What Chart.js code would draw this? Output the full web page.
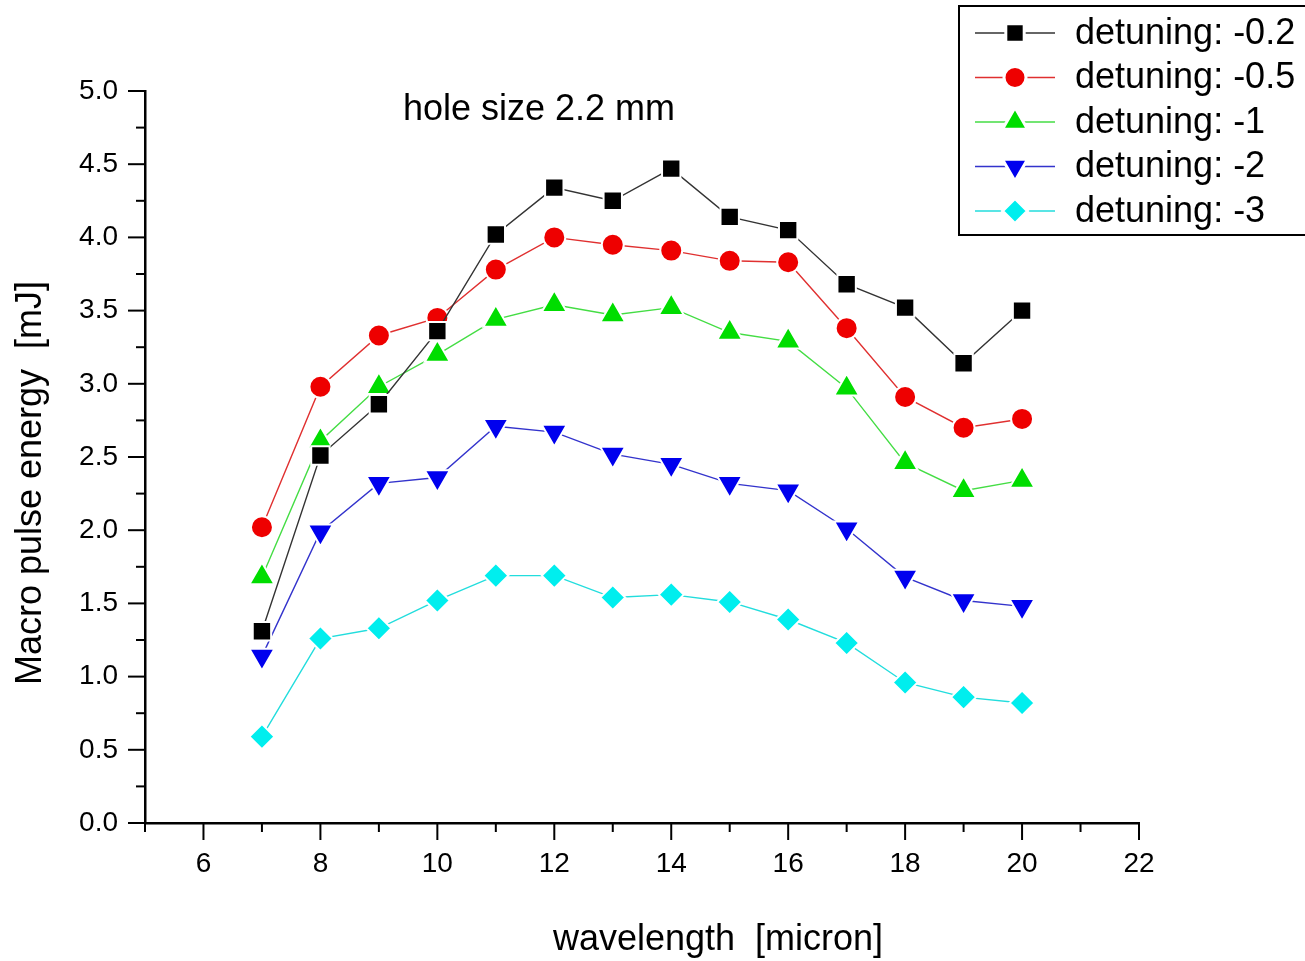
<!DOCTYPE html>
<html lang="en">
<head>
    <meta charset="UTF-8">
    <title>Macro pulse energy</title>
    <script src="https://cdn.jsdelivr.net/npm/chart.js@4/dist/chart.umd.min.js"></script>
    <style>
        html, body { margin: 0; padding: 0; background: #fff; }
        #box { width: 1305px; height: 961px; }
    </style>
</head>
<body>
    <div id="box"><canvas id="canvas" width="1305" height="961"></canvas></div>
    <script>
        // wavelength in micron
        var wavelength = [7, 8, 9, 10, 11, 12, 13, 14, 15, 16, 17, 18, 19, 20];

        // macro pulse energy [mJ] for each detuning
        var det02 = [1.31, 2.51, 2.86, 3.36, 4.02, 4.34, 4.25, 4.47, 4.14, 4.05, 3.68, 3.52, 3.14, 3.50];
        var det05 = [2.02, 2.98, 3.33, 3.45, 3.78, 4.00, 3.95, 3.91, 3.84, 3.83, 3.38, 2.91, 2.70, 2.76];
        var det1 = [1.68, 2.61, 2.98, 3.20, 3.44, 3.54, 3.47, 3.52, 3.35, 3.29, 2.97, 2.46, 2.27, 2.34];
        var det2 = [1.14, 1.99, 2.32, 2.36, 2.71, 2.67, 2.52, 2.45, 2.32, 2.27, 2.01, 1.68, 1.52, 1.48];
        var det3 = [0.59, 1.26, 1.33, 1.52, 1.69, 1.69, 1.54, 1.56, 1.51, 1.39, 1.23, 0.96, 0.86, 0.82];

        var seriesNames = ['detuning: -0.2', 'detuning: -0.5', 'detuning: -1', 'detuning: -2', 'detuning: -3'];

        var font = 'Liberation Sans, Arial, sans-serif';

        function pts(arr) {
            return arr.map(function (v, i) { return { x: wavelength[i], y: v }; });
        }

        function ds(label, values, color, lineColor, style, radius, rotation) {
            return {
                label: label,
                data: pts(values),
                borderColor: lineColor,
                borderWidth: 1.4,
                backgroundColor: color,
                pointBackgroundColor: color,
                pointBorderColor: '#ffffff',
                pointBorderWidth: 2,
                pointStyle: style,
                pointRadius: radius,
                pointRotation: rotation || 0,
                pointHoverRadius: radius,
                tension: 0
            };
        }

        var datasets = [
            ds(seriesNames[0], det02, '#000000', '#333333', 'rect', 13),
            ds(seriesNames[1], det05, '#ee0000', '#e03030', 'circle', 11),
            ds(seriesNames[2], det1, '#00dd00', '#44dd44', 'triangle', 14.5),
            ds(seriesNames[3], det2, '#0000ee', '#3333cc', 'triangle', 14.5, 180),
            ds(seriesNames[4], det3, '#00eeee', '#22dddd', 'rectRot', 12.5)
        ];

        // axis tick marks (major / minor), axis titles, inner title, legend box
        var decor = {
            id: 'decor',
            afterDraw: function (chart) {
                var ctx = chart.ctx;
                var xs = chart.scales.x, ys = chart.scales.y;
                var area = chart.chartArea;
                ctx.save();
                ctx.strokeStyle = '#000';
                ctx.lineWidth = 2;
                for (var v = 5; v <= 22; v++) {
                    var px = xs.getPixelForValue(v);
                    var len = (v % 2 === 0) ? 17 : 9;
                    ctx.beginPath();
                    ctx.moveTo(px, area.bottom);
                    ctx.lineTo(px, area.bottom + len);
                    ctx.stroke();
                }
                for (var k = 0; k <= 20; k++) {
                    var yv = k * 0.25;
                    var py = ys.getPixelForValue(yv);
                    var l2 = (k % 2 === 0) ? 17 : 9;
                    ctx.beginPath();
                    ctx.moveTo(area.left, py);
                    ctx.lineTo(area.left - l2, py);
                    ctx.stroke();
                }

                ctx.fillStyle = '#000';
                ctx.textAlign = 'center';
                ctx.textBaseline = 'middle';

                // axis titles
                ctx.font = '36px ' + font;
                ctx.fillText('wavelength  [micron]', 718, 940);
                ctx.save();
                ctx.translate(31, 483);
                ctx.rotate(-Math.PI / 2);
                ctx.fillText('Macro pulse energy  [mJ]', 0, 0);
                ctx.restore();

                // inner title
                ctx.font = '36px ' + font;
                ctx.fillText('hole size 2.2 mm', 539, 110);

                // legend
                ctx.lineWidth = 2;
                ctx.strokeStyle = '#000';
                ctx.fillStyle = '#fff';
                ctx.fillRect(959, 6, 360, 229);
                ctx.strokeRect(959, 6, 360, 229);
                ctx.font = '36px ' + font;
                ctx.textAlign = 'left';
                chart.data.datasets.forEach(function (d, i) {
                    var y = 33 + i * 44.5;
                    ctx.strokeStyle = d.borderColor;
                    ctx.lineWidth = 1.4;
                    ctx.beginPath();
                    ctx.moveTo(975, y);
                    ctx.lineTo(1055, y);
                    ctx.stroke();
                    ctx.fillStyle = d.pointBackgroundColor;
                    ctx.strokeStyle = '#fff';
                    ctx.lineWidth = 3;
                    Chart.helpers.drawPoint(ctx, {
                        pointStyle: d.pointStyle,
                        radius: d.pointRadius,
                        rotation: d.pointRotation,
                        borderWidth: 3
                    }, 1015, y);
                    ctx.fillStyle = '#000';
                    ctx.fillText(d.label, 1075, y + 1);
                });
                ctx.restore();
            }
        };

        new Chart(document.getElementById('canvas'), {
            type: 'line',
            data: { datasets: datasets },
            options: {
                responsive: false,
                animation: false,
                layout: { padding: { top: 91, right: 166, left: 0, bottom: 0 } },
                plugins: {
                    legend: { display: false },
                    tooltip: { enabled: false }
                },
                scales: {
                    x: {
                        type: 'linear',
                        min: 5,
                        max: 22,
                        grid: { display: false, drawTicks: false },
                        border: { display: true, color: '#000', width: 2.5 },
                        ticks: {
                            stepSize: 1,
                            autoSkip: false,
                            maxRotation: 0,
                            padding: 24,
                            color: '#000',
                            font: { family: font, size: 28 },
                            callback: function (v) { return (v % 2 === 0) ? String(v) : ''; }
                        },
                        afterFit: function (s) { s.height = 138; }
                    },
                    y: {
                        min: 0,
                        max: 5,
                        grid: { display: false, drawTicks: false },
                        border: { display: true, color: '#000', width: 2.5 },
                        ticks: {
                            stepSize: 0.5,
                            padding: 27,
                            color: '#000',
                            font: { family: font, size: 28 },
                            callback: function (v) { return v.toFixed(1); }
                        },
                        afterFit: function (s) { s.width = 145; }
                    }
                }
            },
            plugins: [decor]
        });
    </script>
</body>
</html>
